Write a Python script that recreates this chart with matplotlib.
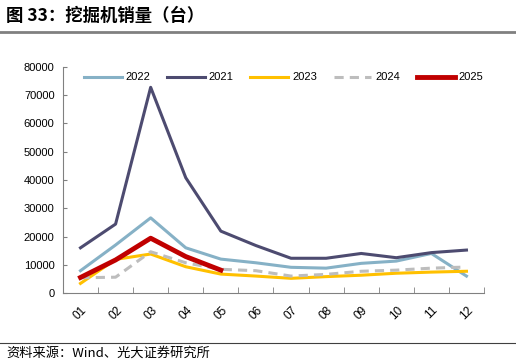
import matplotlib.pyplot as plt
from matplotlib.lines import Line2D

plt.rcParams['font.family'] = ['Liberation Sans', 'Noto Sans CJK SC', 'DejaVu Sans']

months = ["01", "02", "03", "04", "05", "06", "07", "08", "09", "10", "11", "12"]
sales_2022 = [7900, 17000, 26600, 16000, 12000, 10700, 9100, 8800, 10500, 11300, 14000, 6000]
sales_2021 = [16000, 24400, 72800, 40800, 21900, 16800, 12300, 12300, 14000, 12500, 14300, 15200]
sales_2023 = [3400, 11900, 13800, 9300, 6700, 6000, 5200, 5800, 6300, 7000, 7400, 7700]
sales_2024 = [5400, 5600, 14600, 10700, 8400, 7900, 6000, 6600, 7700, 8100, 8800, 9200]
sales_2025 = [5500, 11700, 19400, 12900, 8100]

fig = plt.figure(figsize=(5.16, 3.64), dpi=100)
ax = fig.add_axes([0.122, 0.195, 0.816, 0.621])

x = list(range(len(months)))
ax.plot(x, sales_2022, color="#86b1c6", lw=2.2, label="2022")
ax.plot(x, sales_2021, color="#4d4b70", lw=2.2, label="2021")
ax.plot(x, sales_2023, color="#ffc000", lw=2.2, label="2023")
ax.plot(x, sales_2024, color="#bdbdbd", lw=2.2, ls=(0, (3, 2)), label="2024")
ax.plot(x[:len(sales_2025)], sales_2025, color="#c00000", lw=3.5, label="2025")

ax.set_xlim(-0.5, 11.5)
ax.set_ylim(0, 80000)
ax.set_yticks(range(0, 80001, 10000))
ax.tick_params(axis="y", labelsize=8, length=3, direction="in", color="#808080", pad=6)
ax.set_xticks(x)
ax.set_xticklabels(months, rotation=45, fontsize=8.5)
ax.tick_params(axis="x", length=0, pad=8)
# tick marks sit between the categories
ax.set_xticks([i + 0.5 for i in range(12)], minor=True)
ax.tick_params(axis="x", which="minor", length=4, direction="in", color="#808080")

for side in ["top", "right"]:
    ax.spines[side].set_visible(False)
for side in ["left", "bottom"]:
    ax.spines[side].set_color("#808080")

ax.legend(loc="upper center", bbox_to_anchor=(0.524, 1.02), ncol=5, frameon=False,
          fontsize=8, handlelength=3.4, columnspacing=1.5, handletextpad=0.35)

cjk = ['Noto Sans CJK SC', 'DejaVu Sans']
fig.text(0.012, 0.957, "图 33：挖掘机销量（台）", fontsize=12.5, fontweight="bold",
         va="center", ha="left", family=cjk)
fig.add_artist(Line2D([0.0, 1.0], [0.912, 0.912], color="#808080", lw=2))
fig.add_artist(Line2D([0.0, 1.0], [0.058, 0.058], color="#404040", lw=0.8))
fig.text(0.012, 0.03, "资料来源：Wind、光大证券研究所", fontsize=9.5, va="center", ha="left",
         family=cjk)

fig.savefig("out.png", dpi=100)
